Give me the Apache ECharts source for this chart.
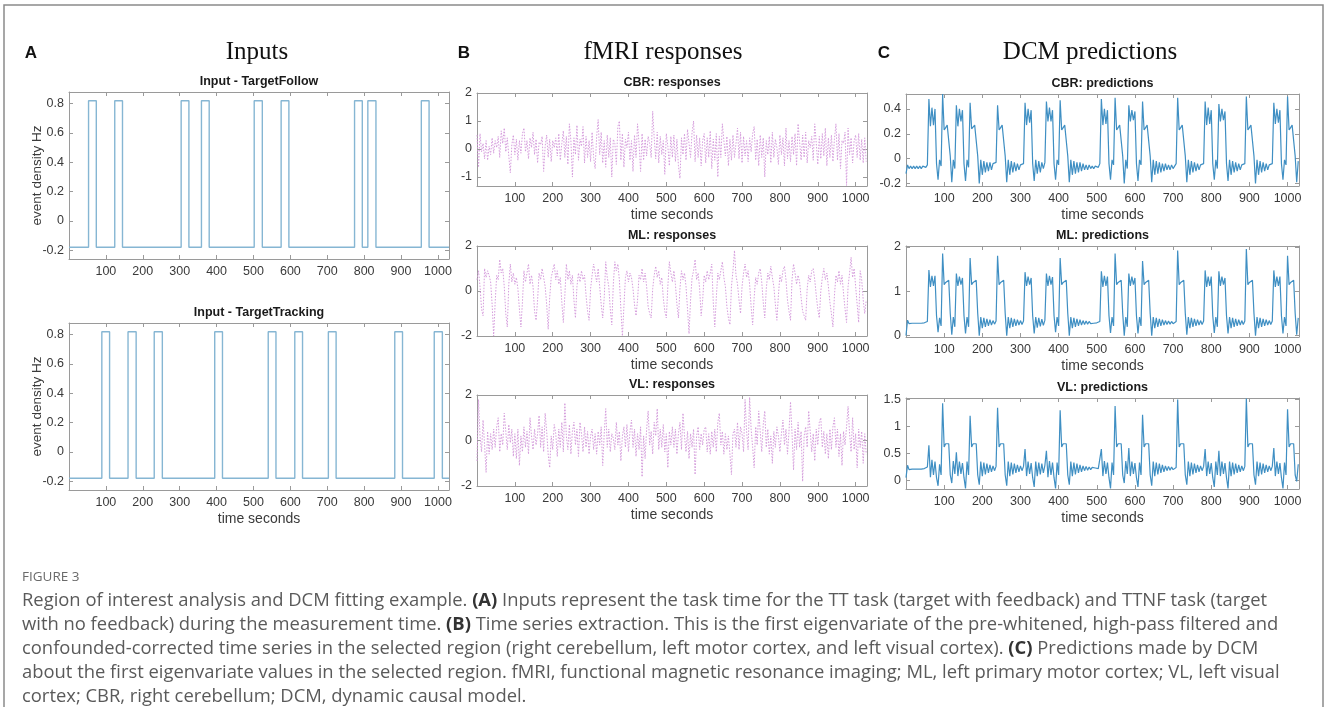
<!DOCTYPE html>
<html>
<head>
<meta charset="utf-8" />
<title>Figure 3</title>
<style type="text/css">
html,body{margin:0px;padding:0px;background:#fff}
#main{width:1328px;height:707px}
</style>
<script src="https://cdn.jsdelivr.net/npm/echarts@6/dist/echarts.min.js"></script>
</head>
<body>
<div id="main"></div>
<script type="text/javascript">
// inputs: block onsets / offsets (s)
var followOn  = [53, 124, 304, 359, 502, 575, 774, 810, 955];
var followOff = [74, 145, 325, 380, 524, 596, 795, 832, 976];
var trackOn   = [89, 160, 231, 395, 540, 612, 703, 883, 990];
var trackOff  = [110, 182, 253, 416, 561, 633, 724, 904, 1012];
var inputLow = -0.18, inputHigh = 0.82;
var timeEnd = 1030;
var dt = 4; // sample step of the series below (s)
var xTicks = [100, 200, 300, 400, 500, 600, 700, 800, 900, 1000];

// fMRI responses (first eigenvariate), one value every 4 s
var cbrResp = [
0.50,-0.65,0.55,-0.10,0.20,-0.35,0.30,-0.40,0.10,-0.20,0.40,-0.15,0.30,0.05,0.45,-0.30,0.65,0.20,0.75,-0.10,0.40,-0.25,-0.85,0.15,0.50,-0.20,
0.35,-0.40,0.30,-0.15,0.55,0.75,-0.10,0.30,-0.35,0.40,0.05,0.60,-0.20,0.35,-0.50,0.25,0.15,0.45,-0.80,0.10,0.50,-0.30,0.35,-0.45,0.30,0.05,
0.40,-0.25,0.55,-0.40,0.20,0.65,-0.30,0.45,-0.55,0.90,0.30,-1.00,0.40,-0.20,0.85,-0.40,0.35,0.10,0.80,-0.50,0.45,-0.30,0.30,-0.45,0.60,-0.30,
-0.70,0.45,1.05,-0.20,0.60,-0.50,0.30,-0.65,0.50,-0.30,0.40,-1.00,0.35,0.20,-0.55,0.80,1.00,-0.40,0.55,-0.65,0.35,0.05,0.60,-0.40,0.30,-0.80,
0.50,-0.30,0.90,0.20,-0.80,0.55,-0.40,0.35,-0.25,0.45,0.20,-0.30,1.35,0.40,-0.35,0.60,-0.50,0.45,-0.20,0.30,-0.90,0.55,0.10,-0.60,0.45,-0.30,
0.50,-0.45,0.35,-0.60,-1.05,0.40,-0.20,0.55,-0.40,0.70,0.20,-0.30,0.60,1.00,-0.45,0.50,-0.30,0.40,-0.60,0.30,0.55,-0.50,0.40,-0.30,0.65,-0.70,
0.35,-0.40,0.55,-1.00,0.45,-0.30,0.90,0.30,-0.25,0.45,-0.60,0.35,-0.40,0.50,-0.30,0.20,0.75,-0.35,0.60,-0.50,0.45,-0.25,0.30,-0.45,0.40,-0.10,
0.55,0.80,-0.40,0.35,-0.60,0.50,-0.30,0.40,-1.00,0.30,-0.20,0.45,-0.50,0.60,-0.30,0.35,0.05,-0.55,0.50,-0.20,0.40,-0.60,0.75,-0.35,0.30,-0.45,
0.45,-0.20,0.55,-0.60,0.90,0.25,-0.40,0.50,-0.30,0.60,-0.50,0.30,0.05,0.45,-0.40,0.90,0.20,-0.55,0.45,-0.35,0.55,-0.25,0.75,-0.60,0.40,-0.30,
0.50,-0.45,0.35,0.90,-0.40,0.55,-0.70,0.30,0.20,0.60,-1.30,0.75,-0.20,0.40,-0.50,0.30,0.50,-0.30,0.55,-0.40,0.35,-0.50,0.40,-0.45
];
var mlResp = [
0.5,0.9,0.2,-0.8,-1.1,1.0,0.6,0.9,0.7,0.4,-0.6,-2.0,-0.5,0.7,0.5,1.4,0.8,1.0,0.2,-1.0,-1.6,0.3,1.2,0.4,0.8,0.3,
0.6,0.1,-0.8,-1.6,-0.5,0.9,0.4,0.8,1.2,0.3,0.7,0.2,-0.9,-1.3,-0.4,0.8,0.5,1.0,0.6,0.2,-0.6,-1.7,-0.3,0.6,0.9,1.2,
0.5,0.9,0.3,0.6,-0.5,-1.4,-0.2,1.2,0.5,0.9,0.3,0.7,-0.4,-1.2,0.2,0.8,0.4,0.9,0.5,0.7,-0.2,-0.9,-1.3,0.1,0.7,1.2,
0.8,0.4,1.0,0.2,-0.6,-1.2,-0.3,1.3,0.6,0.2,-0.8,-1.5,0.3,1.3,0.9,1.2,0.5,-0.8,-2.0,-0.7,0.6,0.9,0.4,0.8,0.6,0.1,
-0.6,-1.1,-0.4,0.7,0.5,1.0,0.4,0.8,0.2,-0.7,-1.0,-1.2,0.1,0.7,1.1,0.6,0.9,0.3,0.6,-0.3,-0.9,-1.2,0.2,1.3,0.8,0.4,
0.9,0.3,-0.6,-1.2,0.1,0.9,0.5,0.8,0.2,-0.8,-1.9,-0.4,0.6,0.9,1.4,0.5,0.8,0.1,-1.1,-0.4,0.7,0.4,0.9,0.5,0.8,1.2,
-0.5,-1.6,-0.3,0.8,0.5,0.9,1.3,0.6,0.2,-0.7,-1.2,-1.5,0.2,0.9,1.8,0.7,0.3,-0.4,-1.0,0.2,0.8,1.2,0.6,0.9,0.3,-0.7,
-1.5,-0.3,0.6,0.3,0.8,1.0,0.4,-0.5,-1.2,0.1,0.8,0.5,1.1,0.6,0.2,-0.6,-1.3,-0.2,0.7,0.4,0.9,1.1,0.5,-0.4,-0.9,-1.3,
0.5,1.2,0.8,0.3,0.7,0.4,-0.3,-0.9,-1.1,-1.3,0.1,0.7,0.4,0.9,1.0,0.5,-0.2,-0.8,-1.2,0.0,0.6,1.0,0.5,0.8,0.2,-0.5,
-1.0,-1.6,-0.2,0.7,0.4,0.9,0.3,0.7,-0.1,-0.8,-1.4,0.2,0.8,1.5,0.6,1.0,0.2,-0.6,-1.4,0.9,0.5,-0.4,-1.0,-0.4
];
var vlResp = [
-0.9,1.8,0.2,-0.5,0.9,-0.2,-1.4,0.4,-0.6,0.3,-0.4,0.5,-0.3,0.6,1.0,-0.5,0.3,-0.2,1.2,0.4,-0.4,0.7,-0.1,0.5,-0.7,0.3,
-0.8,0.5,-1.1,0.2,-0.5,0.6,-0.3,0.4,-0.6,1.0,0.2,-0.4,0.5,-0.2,0.3,1.1,-0.3,0.6,-0.5,1.2,0.4,-0.6,-1.2,0.2,-0.4,0.7,
0.3,-0.7,0.5,-0.3,0.8,-0.5,1.65,0.2,-0.4,0.7,-0.6,0.4,0.8,-0.2,0.5,-0.7,0.8,0.3,-0.5,0.6,-0.3,0.4,-0.6,0.2,0.5,-0.4,
0.3,-0.6,0.4,-0.2,0.6,-1.1,0.3,1.4,-0.3,0.5,-0.5,0.3,0.1,-0.4,0.8,-0.2,0.4,-0.9,0.2,0.6,-0.3,0.7,-0.5,0.4,0.9,-0.3,
0.5,-0.7,0.3,-0.4,0.6,-1.6,0.2,-0.8,0.5,1.3,-0.2,0.4,-0.6,0.8,0.2,1.4,-0.4,0.5,-0.3,0.7,-0.5,0.3,-1.2,0.4,-0.2,0.6,
-0.3,0.5,-0.6,0.3,0.8,-0.4,1.2,0.2,-0.5,0.4,-0.8,0.3,-0.3,0.5,-1.5,0.2,0.6,-0.4,0.3,-0.2,0.5,0.6,-0.5,0.3,-0.6,0.4,
-0.3,0.5,-0.5,0.8,1.2,-0.2,0.4,-0.6,0.3,-0.4,0.2,-0.6,-1.5,0.3,0.5,-0.3,0.8,-0.4,0.6,0.3,-0.5,1.8,0.4,-0.4,1.9,0.5,
-0.3,-1.2,0.6,-0.2,1.3,0.4,-0.5,0.7,1.3,-0.3,0.5,-0.6,0.2,-1.0,0.4,-0.3,0.6,0.2,-0.5,0.3,0.9,-0.2,0.5,-0.6,0.4,1.7,
0.3,-1.3,0.5,-0.4,0.8,-0.3,0.4,-1.8,0.2,0.6,-0.3,1.3,0.4,-0.5,0.3,-0.9,0.5,-0.2,0.8,1.0,-0.3,0.4,-0.6,0.3,-0.8,0.5,
-0.4,0.6,1.0,-0.3,0.5,-0.7,0.3,-1.1,0.4,-0.2,0.6,1.5,0.3,-0.5,1.0,-0.4,0.3,-1.2,0.5,-0.3,0.4,-1.0,0.3,-0.6
];

// DCM predictions, one value every 4 s
var cbrPred = [
-0.12,-0.05,-0.08,-0.06,-0.08,-0.06,-0.08,-0.06,-0.08,-0.06,-0.08,-0.06,-0.07,
-0.07,-0.05,0.48,0.26,0.41,0.27,0.40,-0.04,-0.17,
-0.01,-0.06,0.52,0.23,0.25,0.27,0.28,0.02,-0.19,
-0.01,-0.08,0.43,0.26,0.40,0.30,0.39,-0.04,-0.18,
-0.01,-0.07,0.45,0.24,0.25,0.27,0.28,0.02,-0.20,
-0.01,-0.13,-0.02,-0.11,-0.03,-0.10,-0.03,-0.09,-0.04,
-0.05,-0.03,0.43,0.23,0.25,0.27,0.28,0.02,-0.19,
-0.01,-0.13,-0.02,-0.11,-0.03,-0.10,-0.04,-0.09,-0.05,
-0.06,-0.04,0.45,0.27,0.40,0.29,0.39,-0.04,-0.18,
-0.01,-0.12,-0.02,-0.11,-0.03,
-0.08,-0.03,0.46,0.30,0.41,0.30,0.39,-0.04,-0.17,
-0.01,-0.05,0.47,0.23,0.25,0.27,0.28,0.02,-0.19,
-0.01,-0.13,-0.02,-0.12,-0.03,-0.11,-0.03,-0.10,-0.04,-0.09,-0.05,-0.09,-0.05,-0.08,-0.06,-0.08,-0.06,-0.07,
-0.07,-0.04,0.48,0.27,0.40,0.28,0.39,-0.04,-0.17,
-0.01,-0.05,0.49,0.23,0.25,0.27,0.28,0.02,-0.20,
-0.01,-0.08,0.43,0.30,0.39,0.31,0.38,-0.04,-0.18,
-0.01,-0.05,0.46,0.23,0.25,0.27,0.28,0.02,-0.19,
-0.01,-0.13,-0.02,-0.12,-0.03,-0.11,-0.04,-0.10,-0.04,-0.09,-0.05,-0.09,-0.05,-0.08,
-0.07,-0.04,0.49,0.23,0.25,0.27,0.28,0.02,-0.19,
-0.01,-0.13,-0.02,-0.11,-0.03,-0.10,-0.04,-0.09,-0.05,
-0.06,-0.04,0.46,0.27,0.41,0.28,0.39,-0.04,-0.17,
-0.01,-0.08,0.44,0.30,0.40,0.31,0.38,-0.04,-0.18,
-0.01,-0.13,-0.02,-0.11,-0.03,-0.10,-0.04,-0.09,-0.05,
-0.06,-0.04,0.50,0.23,0.25,0.27,0.28,0.02,-0.20,
-0.01,-0.13,-0.02,-0.11,-0.03,-0.10,-0.04,-0.09,-0.05,
-0.06,-0.04,0.45,0.28,0.40,0.29,0.39,-0.04,-0.17,
-0.01,-0.05,0.50,0.23,0.25,0.27,0.28,0.02,-0.19,
-0.02
];
var mlPred = [
0.00,0.35,0.27,0.31,0.28,0.30,0.28,0.30,0.28,0.30,0.28,0.30,0.29,
0.29,0.32,1.48,1.10,1.35,1.12,1.35,0.45,0.08,
0.40,0.22,1.85,1.15,1.20,1.23,1.25,0.50,0.02,
0.42,0.20,1.40,1.12,1.33,1.15,1.30,0.45,0.05,
0.42,0.20,1.75,1.15,1.20,1.23,1.25,0.50,0.00,
0.42,0.17,0.40,0.20,0.38,0.22,0.36,0.24,0.34,
0.26,0.33,1.80,1.15,1.20,1.23,1.25,0.50,0.00,
0.42,0.17,0.40,0.20,0.38,0.22,0.36,0.24,0.34,
0.25,0.33,1.43,1.12,1.33,1.15,1.30,0.45,0.05,
0.42,0.18,0.40,0.21,0.37,
0.23,0.35,1.40,1.12,1.35,1.15,1.32,0.45,0.08,
0.42,0.22,1.75,1.15,1.20,1.23,1.25,0.50,0.00,
0.42,0.17,0.40,0.20,0.38,0.22,0.36,0.24,0.34,0.25,0.33,0.26,0.32,0.27,0.31,0.28,0.30,0.29,
0.29,0.32,1.45,1.10,1.35,1.12,1.33,0.45,0.06,
0.42,0.22,1.85,1.15,1.20,1.23,1.25,0.50,0.00,
0.42,0.20,1.40,1.12,1.33,1.15,1.30,0.45,0.05,
0.42,0.22,1.68,1.15,1.20,1.23,1.25,0.50,0.00,
0.42,0.17,0.40,0.20,0.38,0.22,0.36,0.24,0.34,0.25,0.33,0.26,0.32,0.27,
0.28,0.32,1.92,1.15,1.20,1.23,1.25,0.50,0.02,
0.42,0.17,0.40,0.20,0.38,0.22,0.36,0.24,0.34,
0.25,0.33,1.47,1.10,1.33,1.12,1.33,0.45,0.06,
0.42,0.20,1.45,1.12,1.33,1.15,1.30,0.45,0.05,
0.42,0.17,0.40,0.20,0.38,0.22,0.36,0.24,0.34,
0.25,0.33,1.95,1.15,1.20,1.23,1.25,0.50,0.00,
0.42,0.17,0.40,0.20,0.38,0.22,0.36,0.24,0.34,
0.25,0.33,1.47,1.10,1.33,1.12,1.33,0.45,0.05,
0.42,0.22,1.80,1.15,1.20,1.23,1.25,0.50,0.02,
0.40
];
var vlPred = [
0.05,0.28,0.20,0.23,0.21,0.23,0.21,0.23,0.21,0.23,0.21,0.23,0.22,
0.22,0.25,0.65,0.06,0.38,0.10,0.35,0.05,-0.10,
0.30,0.10,1.43,0.62,0.68,0.70,0.68,0.10,-0.05,
0.36,0.12,0.52,0.08,0.35,0.12,0.32,0.05,-0.15,
0.35,0.10,1.20,0.62,0.68,0.70,0.68,0.10,-0.08,
0.35,0.08,0.33,0.11,0.31,0.14,0.29,0.16,0.27,
0.18,0.26,1.35,0.62,0.68,0.70,0.68,0.10,-0.10,
0.35,0.08,0.33,0.11,0.31,0.14,0.29,0.16,0.27,
0.18,0.26,0.58,0.08,0.35,0.12,0.32,0.05,-0.12,
0.35,0.08,0.33,0.11,0.31,
0.14,0.28,0.55,0.06,0.36,0.10,0.33,0.05,-0.15,
0.33,0.10,1.30,0.62,0.68,0.70,0.68,0.10,-0.08,
0.35,0.08,0.33,0.11,0.31,0.14,0.29,0.16,0.27,0.18,0.26,0.19,0.25,0.20,0.24,0.21,0.23,0.22,
0.22,0.25,0.58,0.08,0.36,0.12,0.33,0.05,-0.15,
0.33,0.10,1.38,0.62,0.68,0.70,0.68,0.10,-0.05,
0.36,0.12,0.60,0.08,0.35,0.12,0.32,0.05,-0.12,
0.33,0.10,1.22,0.62,0.68,0.70,0.68,0.10,-0.10,
0.35,0.08,0.33,0.11,0.31,0.14,0.29,0.16,0.27,0.18,0.26,0.19,0.25,0.20,
0.21,0.24,1.50,0.62,0.68,0.70,0.68,0.10,-0.08,
0.35,0.08,0.33,0.11,0.31,0.14,0.29,0.16,0.27,
0.18,0.26,0.58,0.08,0.35,0.12,0.32,0.05,-0.12,
0.35,0.10,0.55,0.08,0.35,0.12,0.32,0.05,-0.15,
0.35,0.08,0.33,0.11,0.31,0.14,0.29,0.16,0.27,
0.18,0.26,1.52,0.62,0.68,0.70,0.68,0.10,-0.08,
0.35,0.08,0.33,0.11,0.31,0.14,0.29,0.16,0.27,
0.18,0.26,0.60,0.08,0.35,0.12,0.32,0.05,-0.15,
0.33,0.10,1.32,0.62,0.68,0.70,0.68,0.10,-0.02,
0.30
];

var captionLines = [
  'Region of interest analysis and DCM fitting example. {b|(A)} Inputs represent the task time for the TT task (target with feedback) and TTNF task (target',
  'with no feedback) during the measurement time. {b|(B)} Time series extraction. This is the first eigenvariate of the pre-whitened, high-pass filtered and',
  'confounded-corrected time series in the selected region (right cerebellum, left motor cortex, and left visual cortex). {b|(C)} Predictions made by DCM',
  'about the first eigenvariate values in the selected region. fMRI, functional magnetic resonance imaging; ML, left primary motor cortex; VL, left visual',
  'cortex; CBR, right cerebellum; DCM, dynamic causal model.'
];

var inputColor = '#86b6d3', respColor = '#d59ddc', predColor = '#3f8fc3';
var axisColor = '#9a9a9a', labelColor = '#3a3a3a';
var sans = 'Liberation Sans, Arial, sans-serif';
var capFont = '"Open Sans", sans-serif';

function toPairs(vals){
	return vals.map(function(v, i){ return [i * dt, v]; });
}
function steps(on, off){
	var pts = [[0, inputLow]];
	on.forEach(function(t, k){
		pts.push([t, inputLow], [t, inputHigh], [off[k], inputHigh], [off[k], inputLow]);
	});
	pts.push([timeEnd, inputLow]);
	return pts;
}

// box = [left, top, width, height]
var panels = [
	{box:[69, 92, 380, 167], title:'Input - TargetFollow', ymin:-0.26, ymax:0.88, yt:[-0.2,0,0.2,0.4,0.6,0.8], yname:'event density Hz', xname:'', data:steps(followOn, followOff), kind:'in'},
	{box:[69, 323, 380, 167], title:'Input - TargetTracking', ymin:-0.26, ymax:0.88, yt:[-0.2,0,0.2,0.4,0.6,0.8], yname:'event density Hz', xname:'time seconds', data:steps(trackOn, trackOff), kind:'in'},
	{box:[477, 93, 390, 93], title:'CBR: responses', ymin:-1.32, ymax:2, yt:[-1,0,1,2], yname:'', xname:'time seconds', data:toPairs(cbrResp), kind:'resp'},
	{box:[477, 246, 390, 90], title:'ML: responses', ymin:-2, ymax:2, yt:[-2,0,2], yname:'', xname:'time seconds', data:toPairs(mlResp), kind:'resp'},
	{box:[477, 395, 390, 91], title:'VL: responses', ymin:-2, ymax:2, yt:[-2,0,2], yname:'', xname:'time seconds', data:toPairs(vlResp), kind:'resp'},
	{box:[906, 94, 393, 92], title:'CBR: predictions', ymin:-0.22, ymax:0.52, yt:[-0.2,0,0.2,0.4], yname:'', xname:'time seconds', data:toPairs(cbrPred), kind:'pred'},
	{box:[906, 246, 393, 91], title:'ML: predictions', ymin:-0.03, ymax:2.02, yt:[0,1,2], yname:'', xname:'time seconds', data:toPairs(mlPred), kind:'pred'},
	{box:[906, 398, 393, 91], title:'VL: predictions', ymin:-0.16, ymax:1.53, yt:[0,0.5,1,1.5], yname:'', xname:'time seconds', data:toPairs(vlPred), kind:'pred'}
];

var grids = [], xAxes = [], yAxes = [], series = [], graphics = [];
function plain(v){ return String(v); }

panels.forEach(function(p, g){
	grids.push({left:p.box[0], top:p.box[1], width:p.box[2], height:p.box[3]});
	var line = {show:true, onZero:false, lineStyle:{color:axisColor, width:1}};
	var tick = {show:true, inside:true, length:4, lineStyle:{color:axisColor}};
	// bottom + top x axes
	xAxes.push({
		type:'value', gridIndex:g, position:'bottom', min:0, max:timeEnd,
		axisLine:line, splitLine:{show:false},
		axisTick:Object.assign({customValues:xTicks}, tick),
		axisLabel:{customValues:xTicks, formatter:plain, color:labelColor, fontSize:12.5, fontFamily:sans, margin:6},
		name:p.xname, nameLocation:'middle', nameGap:22,
		nameTextStyle:{color:labelColor, fontSize:14, fontFamily:sans}
	});
	xAxes.push({
		type:'value', gridIndex:g, position:'top', min:0, max:timeEnd,
		axisLine:line, splitLine:{show:false},
		axisTick:Object.assign({customValues:xTicks}, tick),
		axisLabel:{show:false}
	});
	// left + right y axes
	yAxes.push({
		type:'value', gridIndex:g, position:'left', min:p.ymin, max:p.ymax,
		axisLine:line, splitLine:{show:false},
		axisTick:Object.assign({customValues:p.yt}, tick),
		axisLabel:{customValues:p.yt, formatter:plain, color:labelColor, fontSize:12.5, fontFamily:sans, margin:5}
	});
	yAxes.push({
		type:'value', gridIndex:g, position:'right', min:p.ymin, max:p.ymax,
		axisLine:line, splitLine:{show:false},
		axisTick:Object.assign({customValues:p.yt}, tick),
		axisLabel:{show:false}
	});
	var s = {
		type:'line', xAxisIndex:2 * g, yAxisIndex:2 * g, data:p.data,
		showSymbol:false, symbol:'none', animation:false, silent:true,
		lineStyle:{width:1.2, color:predColor}
	};
	if(p.kind == 'in') s.lineStyle = {width:1.4, color:inputColor};
	if(p.kind == 'resp') s.lineStyle = {width:1, color:respColor, type:[1.5, 1.5]};
	series.push(s);
	// panel title
	graphics.push({
		type:'text', x:p.box[0] + p.box[2] / 2, y:p.box[1] - 10,
		style:{text:p.title, fill:'#1a1a1a', font:'bold 12.5px ' + sans, textAlign:'center', textVerticalAlign:'middle'}
	});
	// y axis name, rotated
	if(p.yname){
		graphics.push({
			type:'text', x:37, y:p.box[1] + p.box[3] / 2, rotation:Math.PI / 2,
			style:{text:p.yname, fill:labelColor, font:'13.5px ' + sans, textAlign:'center', textVerticalAlign:'middle'}
		});
	}
});

// column headings
[['A', 31, 'Inputs', 257], ['B', 464, 'fMRI responses', 663], ['C', 884, 'DCM predictions', 1090]].forEach(function(h){
	graphics.push({type:'text', x:h[1], y:53, style:{text:h[0], fill:'#111', font:'bold 17px ' + sans, textAlign:'center', textVerticalAlign:'middle'}});
	graphics.push({type:'text', x:h[3], y:52, style:{text:h[2], fill:'#111', font:'25px "Liberation Serif", "Times New Roman", serif', textAlign:'center', textVerticalAlign:'middle'}});
});

// caption
graphics.push({type:'text', x:22, y:577, style:{text:'FIGURE 3', fill:'#6a6a6a', font:'13.5px ' + capFont, textVerticalAlign:'middle'}});
captionLines.forEach(function(t, k){
	graphics.push({
		type:'text', x:22, y:601 + k * 24,
		style:{
			text:t, fill:'#5a5a5a', font:'18.4px ' + capFont, textVerticalAlign:'middle',
			rich:{b:{fontWeight:'bold', fill:'#333', fontSize:18.4, fontFamily:capFont}}
		}
	});
});

// outer frame
graphics.push({type:'rect', shape:{x:4, y:5, width:1319, height:720}, style:{fill:'none', stroke:'#8a8a8a', lineWidth:1.5}, z:-1});

var chart = echarts.init(document.getElementById('main'));
chart.setOption({
	animation:false,
	backgroundColor:'#fff',
	grid:grids,
	xAxis:xAxes,
	yAxis:yAxes,
	series:series,
	graphic:{elements:graphics}
});
</script>
</body>
</html>
